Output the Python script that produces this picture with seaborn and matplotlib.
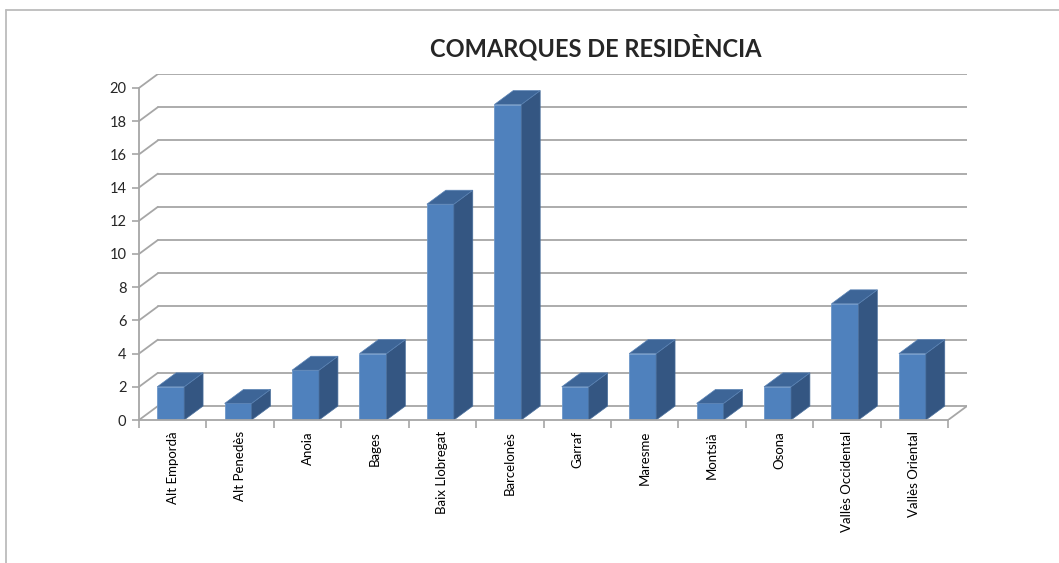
import matplotlib
matplotlib.use("Agg")
import seaborn as sns
from matplotlib import pyplot as plt
from matplotlib.patches import Polygon
from matplotlib.lines import Line2D

comarques = ["Alt Empordà", "Alt Penedès", "Anoia", "Bages", "Baix Llobregat",
             "Barcelonès", "Garraf", "Maresme", "Montsià", "Osona",
             "Vallès Occidental", "Vallès Oriental"]
residents = [2, 1, 3, 4, 13, 19, 2, 4, 1, 2, 7, 4]
yticks = list(range(0, 21, 2))

sns.set_style("white")
plt.rcParams["font.family"] = ["Lato", "DejaVu Sans"]

front, side, top = "#4f81bd", "#345682", "#3d6597"
grid = "#a6a6a6"
dx, dy = 0.28, 0.84  # depth offset of the back wall, in data units

fig = plt.figure(figsize=(10.59, 5.63), dpi=100)
ax = fig.add_axes([139 / 1059, 143 / 563, 828 / 1059, 346 / 563])

sns.barplot(x=comarques, y=residents, color=front, width=0.4, saturation=1,
            edgecolor="#6d97c9", linewidth=0.6, ax=ax, zorder=3)

n = len(comarques)
x0, x1 = -0.5, n - 0.5

# back wall gridlines and left wall diagonals
for v in yticks:
    ax.plot([x0 + dx, x1 + dx], [v + dy, v + dy], color=grid, lw=1.3, zorder=1)
    ax.plot([x0, x0 + dx], [v, v + dy], color=grid, lw=1.3, zorder=1)
ax.plot([x1, x1 + dx], [0, dy], color=grid, lw=1.3, zorder=1)

# 3D side and top faces of each bar (bars sit slightly left of the tick, as in Excel)
for p in ax.patches[:n]:
    p.set_x(p.get_x() - 0.03)
    bx, bw, h = p.get_x(), p.get_width(), p.get_height()
    ax.add_patch(Polygon([(bx + bw, 0), (bx + bw + dx, dy), (bx + bw + dx, h + dy), (bx + bw, h)],
                         closed=True, facecolor=side, edgecolor="#4a6f9c", lw=0.5, zorder=3))
    ax.add_patch(Polygon([(bx, h), (bx + dx, h + dy), (bx + bw + dx, h + dy), (bx + bw, h)],
                         closed=True, facecolor=top, edgecolor="#5a83b5", lw=0.5, zorder=3))

ax.set_xlim(x0, x1 + dx)
ax.set_ylim(0, 20 + dy)
ax.set_yticks(yticks)
ax.set_xticks(range(n))
ax.set_xticklabels(comarques, rotation=90)
ax.set_xticks([i - 0.5 for i in range(n + 1)], minor=True)
ax.tick_params(axis="x", which="major", length=0, pad=8, labelsize=9.5, colors="black")
ax.tick_params(axis="x", which="minor", length=6, width=1.2, color=grid, direction="out")
ax.tick_params(axis="y", length=5, width=1.2, color=grid, direction="out", labelsize=10.5, pad=4)
ax.tick_params(bottom=True, left=True, which="both")
ax.set_xlabel("")
ax.set_ylabel("")

for s in ["top", "right"]:
    ax.spines[s].set_visible(False)
ax.spines["left"].set_bounds(0, 20)
ax.spines["bottom"].set_bounds(x0, x1)
for s in ["left", "bottom"]:
    ax.spines[s].set_color(grid)
    ax.spines[s].set_linewidth(1.3)
    ax.spines[s].set_zorder(4)

fig.text(596 / 1059, 1 - 47 / 563, "COMARQUES DE RESIDÈNCIA", ha="center", va="center",
         fontsize=17, fontweight="bold")

# chart area border
fig.add_artist(Line2D([6 / 1059, 1.0], [1 - 9.5 / 563, 1 - 9.5 / 563], color="#bcbcbc", lw=1.3))
fig.add_artist(Line2D([6 / 1059, 6 / 1059], [0, 1 - 9.5 / 563], color="#bcbcbc", lw=1.3))

fig.savefig("out.png", dpi=100)
